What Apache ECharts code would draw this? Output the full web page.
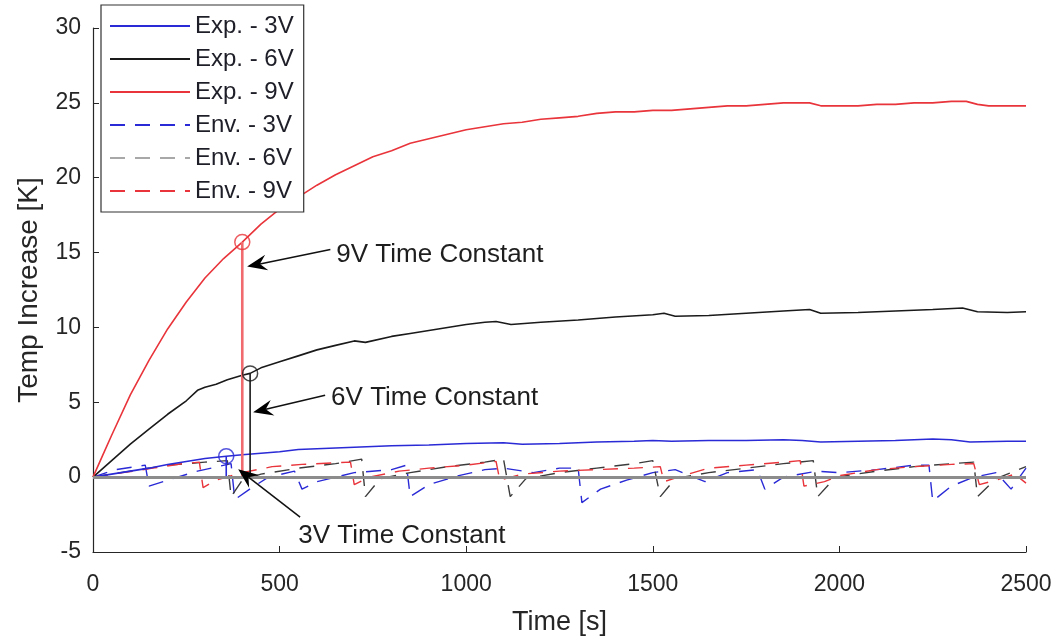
<!DOCTYPE html>
<html>
<head>
<meta charset="utf-8">
<script src="https://cdn.jsdelivr.net/npm/echarts@6/dist/echarts.min.js"></script>
<style>
  html, body { margin: 0; padding: 0; background: #fff; }
  #chart { width: 1057px; height: 641px; }
</style>
</head>
<body>
<div id="chart"></div>
<script>
// measured curves, [time (s), temperature increase (K)]
const exp3V = [[0,0],[50,0.2],[100,0.4],[150,0.6],[200,0.85],[250,1.05],[300,1.25],[357,1.4],[400,1.5],[450,1.6],[500,1.7],[550,1.85],[600,1.9],[700,2.0],[800,2.1],[900,2.15],[1000,2.25],[1100,2.3],[1150,2.2],[1250,2.25],[1350,2.35],[1450,2.4],[1500,2.45],[1550,2.4],[1650,2.45],[1750,2.45],[1850,2.5],[1900,2.45],[1950,2.35],[2050,2.4],[2150,2.45],[2250,2.55],[2300,2.5],[2350,2.35],[2450,2.4],[2500,2.4]];
const exp6V = [[0,0],[50,1.1],[100,2.2],[150,3.2],[200,4.2],[250,5.1],[280,5.8],[300,6.0],[330,6.2],[360,6.5],[400,6.8],[421,6.93],[450,7.3],[500,7.7],[550,8.1],[600,8.5],[650,8.8],[700,9.1],[730,9.0],[800,9.4],[850,9.6],[900,9.8],[950,10.0],[1000,10.2],[1050,10.35],[1080,10.4],[1120,10.2],[1200,10.35],[1300,10.5],[1400,10.7],[1500,10.85],[1530,10.95],[1560,10.75],[1650,10.8],[1750,10.95],[1850,11.1],[1920,11.2],[1950,10.95],[2050,11.0],[2150,11.1],[2250,11.2],[2330,11.3],[2370,11.05],[2450,11.0],[2500,11.05]];
const exp9V = [[0,0],[25,1.4],[50,2.8],[100,5.5],[150,7.8],[200,9.9],[250,11.7],[300,13.3],[350,14.6],[400,15.7],[450,16.9],[500,17.9],[550,18.7],[600,19.5],[650,20.2],[700,20.8],[750,21.4],[800,21.8],[850,22.3],[900,22.6],[950,22.9],[1000,23.2],[1050,23.4],[1100,23.6],[1150,23.7],[1200,23.9],[1250,24.0],[1300,24.1],[1350,24.3],[1400,24.4],[1450,24.4],[1500,24.5],[1550,24.5],[1600,24.6],[1650,24.7],[1700,24.8],[1750,24.8],[1800,24.9],[1850,25.0],[1900,25.0],[1920,25.0],[1950,24.8],[2000,24.8],[2050,24.8],[2100,24.9],[2150,24.9],[2200,25.0],[2250,25.0],[2300,25.1],[2340,25.1],[2370,24.9],[2400,24.8],[2450,24.8],[2500,24.8]];

// environment (ambient) curves
const env3V = [[0,0],[60,0.5],[140,0.8],[150,-0.6],[200,-0.2],[280,0.4],[370,0.9],[380,-1.5],[420,-0.8],[470,0.0],[540,0.4],[560,-0.8],[600,-0.3],[700,0.3],[800,0.5],[840,0.8],[850,-1.3],[900,-0.5],[980,0.1],[1050,0.5],[1100,0.6],[1180,0.3],[1250,0.6],[1300,0.6],[1310,-1.7],[1360,-0.8],[1430,-0.2],[1500,0.3],[1560,0.5],[1640,-0.3],[1700,0.3],[1780,0.5],[1800,-0.8],[1850,0.0],[1940,0.4],[2000,0.3],[2100,0.5],[2200,0.8],[2240,0.8],[2250,-1.6],[2300,-0.6],[2360,0.0],[2420,0.3],[2460,-0.8],[2500,0.6]];
const env6V = [[0,0],[100,0.4],[200,0.8],[300,1.0],[360,1.1],[370,-1.3],[400,-0.2],[450,0.2],[550,0.6],[650,0.9],[720,1.2],[730,-1.3],[770,-0.1],[850,0.3],[950,0.7],[1050,1.0],[1100,1.2],[1118,-1.3],[1160,-0.1],[1250,0.3],[1350,0.6],[1450,0.9],[1500,1.1],[1520,-1.3],[1560,-0.1],[1650,0.3],[1750,0.6],[1850,0.9],[1930,1.1],[1942,-1.3],[1990,0.0],[2100,0.4],[2200,0.7],[2300,0.9],[2360,1.0],[2370,-1.3],[2420,-0.1],[2470,0.4],[2500,0.7]];
const env9V = [[0,0],[80,0.3],[160,0.6],[240,0.9],[285,1.0],[295,-0.7],[330,-0.2],[400,0.3],[480,0.7],[560,0.85],[640,0.95],[690,1.0],[700,-0.5],[740,0.0],[820,0.4],[900,0.6],[1000,0.8],[1080,1.05],[1090,-0.2],[1150,0.2],[1250,0.4],[1350,0.5],[1450,0.6],[1520,0.7],[1530,-0.3],[1580,0.1],[1650,0.6],[1750,0.8],[1850,1.0],[1895,1.1],[1905,-0.6],[1960,-0.3],[2000,0.1],[2100,0.5],[2200,0.7],[2300,0.85],[2360,0.9],[2375,-0.5],[2420,-0.2],[2470,0.2],[2500,-0.4]];

// time constants (3V, 6V, 9V)
const tauTime = [357, 421, 400];
const tauTemp = [1.4, 6.93, 15.7];

const legendNames = ['Exp. - 3V', 'Exp. - 6V', 'Exp. - 9V', 'Env. - 3V', 'Env. - 6V', 'Env. - 9V'];
const xTicks = [0, 500, 1000, 1500, 2000, 2500];
const yTicks = [-5, 0, 5, 10, 15, 20, 25, 30];

const BLUE = '#2a2ad6', BLACK = '#1a1a1a', RED = '#e8343a';
const FONT = '"Liberation Sans", Arial, sans-serif';
const AX = '#262626';

const chart = echarts.init(document.getElementById('chart'));

function solid(name, data, color) {
  return { name, type: 'line', data, symbol: 'none', showSymbol: false,
    lineStyle: { color, width: 1.6 }, itemStyle: { color }, z: 3, animation: false };
}
function dashed(name, data, color) {
  return { name, type: 'line', data, symbol: 'none', showSymbol: false,
    lineStyle: { color, width: 1.4, type: [15, 10] }, itemStyle: { color }, z: 2, animation: false };
}

const tauColors = [BLUE, BLACK, RED];
const tauSeries = [];
tauTime.forEach((t, i) => {
  tauSeries.push({
    name: 'tauLine' + i, type: 'line', symbol: 'none', animation: false, z: 4,
    data: [[t, tauTemp[i]], [t, 0]],
    lineStyle: { color: i === 2 ? '#f06a6e' : tauColors[i], width: i === 2 ? 2.6 : 1.6 }
  });
  tauSeries.push({
    name: 'tauPoint' + i, type: 'scatter', symbol: 'circle', symbolSize: 15, animation: false, z: 5,
    data: [[t, tauTemp[i]]],
    itemStyle: { color: 'rgba(0,0,0,0)', borderColor: tauColors[i], borderWidth: 1.5 }
  });
});

const zeroSeries = {
  name: 'zero', type: 'line', data: [], animation: false,
  markLine: { silent: true, symbol: 'none', label: { show: false },
    lineStyle: { color: '#8c8c8c', width: 3, type: 'solid' },
    data: [{ yAxis: 0 }] },
  z: 6
};

chart.setOption({
  backgroundColor: '#fff',
  animation: false,
  grid: { left: 93, right: 31, top: 28, bottom: 88 },
  legend: {
    data: legendNames.map((n, i) => i === 4
      ? { name: n, lineStyle: { color: '#a8a8a8' } }
      : { name: n }),
    orient: 'vertical', left: 101, top: 5,
    itemWidth: 80, itemHeight: 14, itemGap: 9,
    padding: [9, 10, 9, 8],
    itemStyle: { opacity: 0 },
    borderColor: '#333', borderWidth: 1.2, backgroundColor: '#fff',
    textStyle: { fontFamily: FONT, fontSize: 24, color: '#1e1e28', lineHeight: 22 },
    selectedMode: false, z: 10
  },
  xAxis: {
    type: 'value', min: 0, max: 2500, interval: 500,
    name: 'Time [s]', nameLocation: 'middle', nameGap: 57,
    nameTextStyle: { fontFamily: FONT, fontSize: 27, color: AX },
    axisLine: { show: true, onZero: false, lineStyle: { color: AX, width: 1.2 } },
    axisTick: { show: true, inside: true, length: 6, lineStyle: { color: AX } },
    axisLabel: { fontFamily: FONT, fontSize: 23, color: AX, margin: 21,
      formatter: v => xTicks.includes(v) ? String(v) : '' },
    splitLine: { show: false }
  },
  yAxis: {
    type: 'value', min: -5, max: 30, interval: 5,
    name: 'Temp Increase [K]', nameLocation: 'middle', nameGap: 50,
    nameTextStyle: { fontFamily: FONT, fontSize: 28, color: AX },
    axisLine: { show: true, onZero: false, lineStyle: { color: AX, width: 1.2 } },
    axisTick: { show: true, inside: true, length: 6, lineStyle: { color: AX } },
    axisLabel: { fontFamily: FONT, fontSize: 23, color: AX, margin: 12,
      formatter: v => yTicks.includes(v) ? String(v) : '' },
    splitLine: { show: false }
  },
  series: [
    solid(legendNames[0], exp3V, BLUE),
    solid(legendNames[1], exp6V, BLACK),
    solid(legendNames[2], exp9V, RED),
    dashed(legendNames[3], env3V, BLUE),
    dashed(legendNames[4], env6V, '#3c3c3c'),
    dashed(legendNames[5], env9V, RED),
    zeroSeries
  ].concat(tauSeries)
});

// text arrows, anchored in data coordinates
const notes = [
  { text: '9V Time Constant', from: [636, 15.2], to: [413, 14.07], at: [652, 14.87] },
  { text: '6V Time Constant', from: [622, 5.47], to: [429, 4.33], at: [638, 5.27] },
  { text: '3V Time Constant', from: [555, -2.67], to: [389, 0.53], at: [550, -3.93] }
];

const graphics = [];
notes.forEach(n => {
  const a = chart.convertToPixel({ gridIndex: 0 }, n.from);
  const b = chart.convertToPixel({ gridIndex: 0 }, n.to);
  const p = chart.convertToPixel({ gridIndex: 0 }, n.at);
  const dx = b[0] - a[0], dy = b[1] - a[1];
  const len = Math.hypot(dx, dy);
  const ux = dx / len, uy = dy / len;
  const nx = -uy, ny = ux;
  const L = 20, W = 8;
  const back = [b[0] - ux * L, b[1] - uy * L];
  const notch = [b[0] - ux * L * 0.65, b[1] - uy * L * 0.65];
  graphics.push({
    type: 'line', z: 20,
    shape: { x1: a[0], y1: a[1], x2: notch[0], y2: notch[1] },
    style: { stroke: '#111', lineWidth: 1.5 }
  });
  graphics.push({
    type: 'polygon', z: 20,
    shape: { points: [b, [back[0] + nx * W, back[1] + ny * W], notch, [back[0] - nx * W, back[1] - ny * W]] },
    style: { fill: '#000' }
  });
  graphics.push({
    type: 'text', z: 20, x: p[0], y: p[1],
    style: { text: n.text, font: '26px ' + FONT, fill: '#1e1e1e', verticalAlign: 'middle', align: 'left' }
  });
});
chart.setOption({ graphic: graphics });
</script>
</body>
</html>
